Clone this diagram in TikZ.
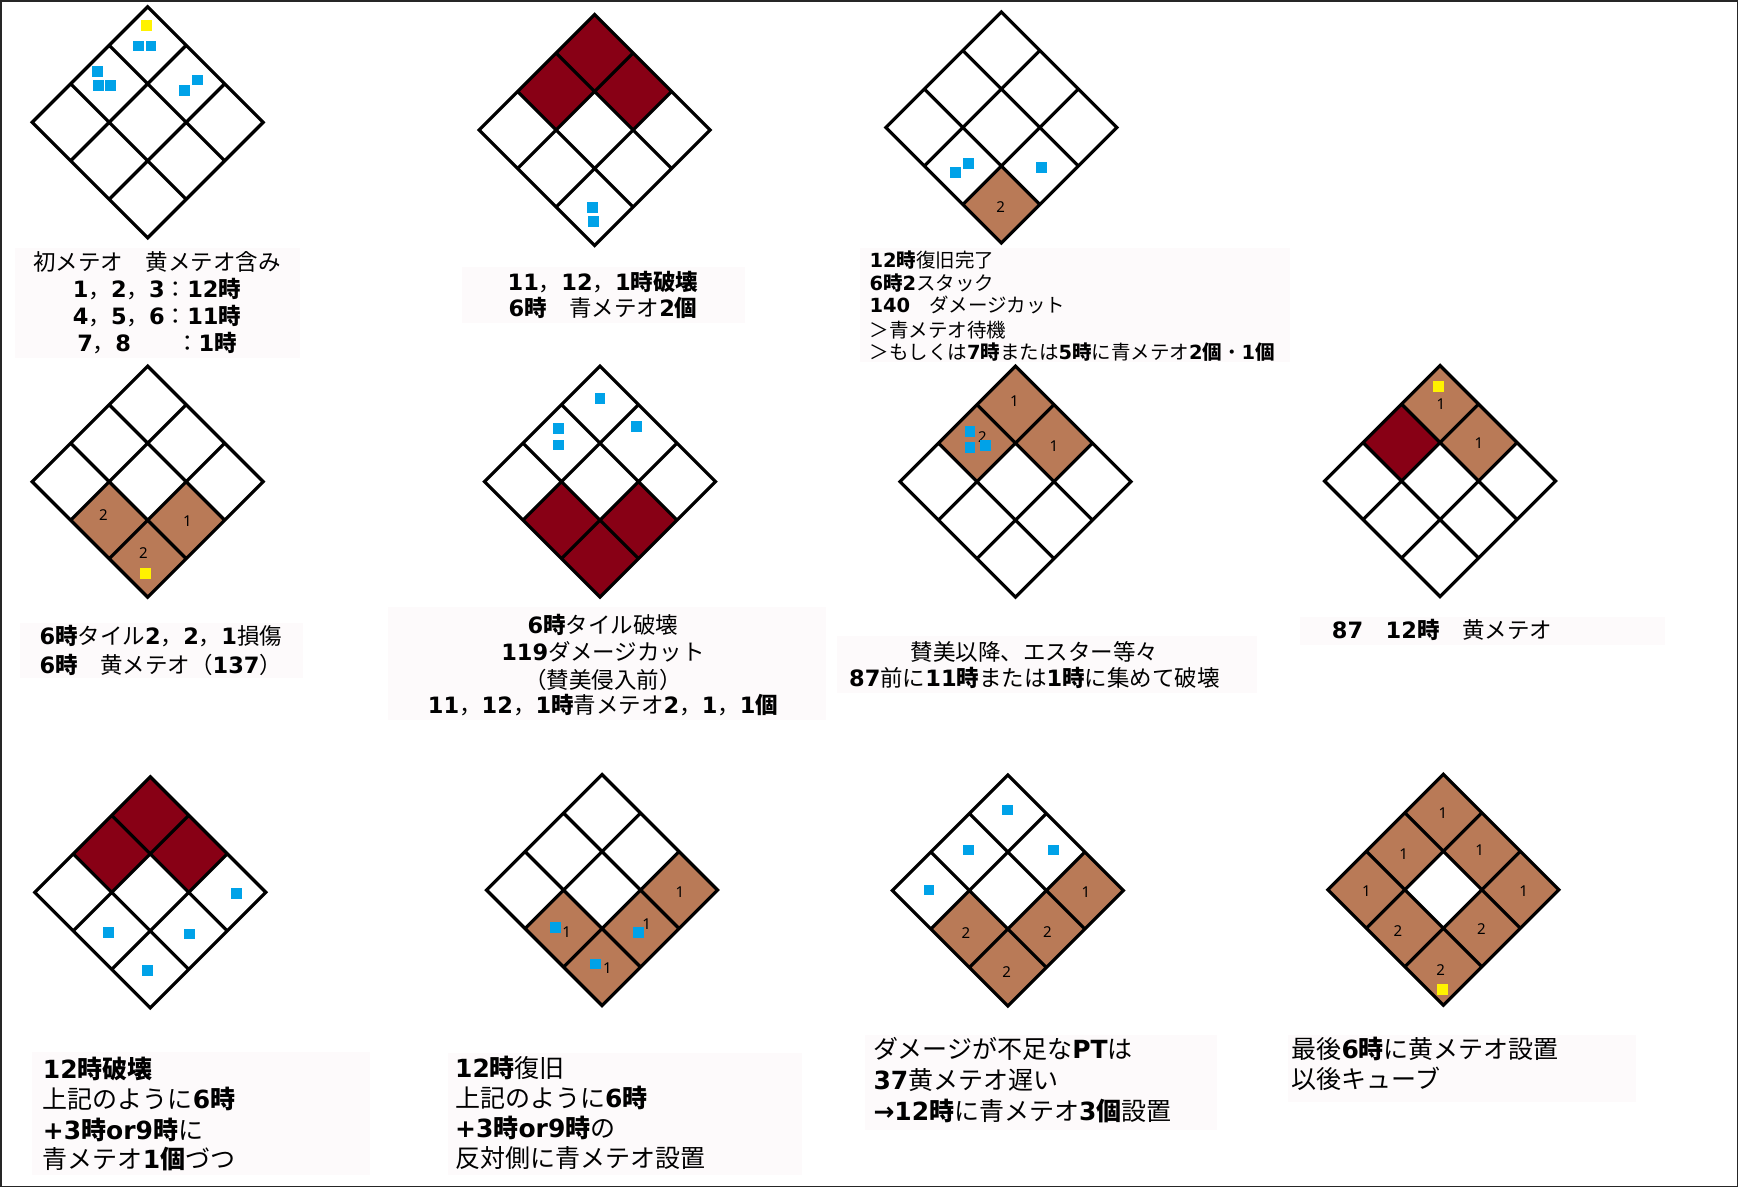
\documentclass[tikz,border=0pt]{standalone}
\usepackage{fontspec}
\setmainfont{Noto Sans CJK JP}
\newfontfamily\dv{DejaVu Sans}
\newfontfamily\nsans{Noto Sans}
\newcommand\D[1]{{\dv\bfseries #1}}
\newcommand\K[1]{{\bfseries #1}}
\definecolor{dred}{HTML}{880015}
\definecolor{tbrown}{HTML}{B97A57}
\definecolor{ymk}{HTML}{FFF200}
\definecolor{bmk}{HTML}{00A2E8}
\definecolor{txtbg}{HTML}{FDFAFB}
\tikzset{
  gridline/.style={line width=3.2pt, line join=miter, draw=black},
  txtA/.style={inner sep=0pt, font=\fontsize{22.5}{27}\selectfont},
  txtB/.style={inner sep=0pt, font=\fontsize{19.5}{23}\selectfont},
  txtC/.style={inner sep=0pt, font=\fontsize{25}{30}\selectfont},
  lbl/.style={inner sep=0pt, font=\nsans\fontsize{15}{18}\selectfont},
  txtbox/.style={fill=txtbg, draw=none},
}
\newcommand\dgrid[2]{\draw[gridline,shift={(#1,#2-115.5)},x={(38.5pt,-38.5pt)},y={(-38.5pt,-38.5pt)}]
  (0,0)--(3,0)--(3,3)--(0,3)--cycle (1,0)--(1,3) (2,0)--(2,3) (0,1)--(3,1) (0,2)--(3,2);}
\newcommand\dcell[5]{\fill[#5,shift={(#1,#2-115.5)},x={(38.5pt,-38.5pt)},y={(-38.5pt,-38.5pt)}]
  (#3,#4) -- ++(1,0) -- ++(0,1) -- ++(-1,0) -- cycle;}
\newcommand\bsq[2]{\fill[bmk] (#1,#2) ++(-5.3,-5.3) rectangle ++(10.6,10.6);}
\newcommand\ysq[2]{\fill[ymk] (#1,#2) ++(-5.5,-5.5) rectangle ++(11,11);}
\begin{document}
\begin{tikzpicture}[x=1pt,y=-1pt]
\useasboundingbox (0,0) rectangle (1738,1187);
\fill[white] (0,0) rectangle (1738,1187);
% text backgrounds
\fill[txtbox] (15,248) rectangle (300,358);
\fill[txtbox] (461.7,266.7) rectangle (745,323.3);
\fill[txtbox] (860,248) rectangle (1290,362);
\fill[txtbox] (20,623) rectangle (303,678);
\fill[txtbox] (388,607) rectangle (826,720);
\fill[txtbox] (837,636) rectangle (1257,693);
\fill[txtbox] (1300,617) rectangle (1665,645);
\fill[txtbox] (31.7,1052) rectangle (370,1175);
\fill[txtbox] (448,1053) rectangle (802,1175);
\fill[txtbox] (865,1035) rectangle (1217,1130);
\fill[txtbox] (1288,1035) rectangle (1636,1102);

% ---------- diamond 1
\dgrid{147.7}{122.3}
\ysq{146}{25}
\bsq{138.2}{46}\bsq{150.8}{46}
\bsq{97.3}{71.7}\bsq{98.7}{85.7}\bsq{110.5}{85.7}
\bsq{184.3}{90.7}\bsq{197.3}{80}

% ---------- diamond 2
\dcell{594.7}{130}{0}{0}{dred}\dcell{594.7}{130}{1}{0}{dred}\dcell{594.7}{130}{0}{1}{dred}
\dgrid{594.7}{130}
\bsq{592.7}{207.3}\bsq{593.3}{221.7}

% ---------- diamond 3
\dcell{1001.3}{127.5}{2}{2}{tbrown}
\dgrid{1001.3}{127.5}
\node[lbl] (l3a) at (1000.7,206.7) {2};
\bsq{955.7}{172.3}\bsq{968.3}{163.3}\bsq{1041.7}{167.3}

% ---------- diamond 4
\dcell{147.7}{481.7}{1}{2}{tbrown}\dcell{147.7}{481.7}{2}{2}{tbrown}\dcell{147.7}{481.7}{2}{1}{tbrown}
\dgrid{147.7}{481.7}
\node[lbl] (l4a) at (103.3,515) {2};
\node[lbl] (l4b) at (143.3,552.7) {2};
\node[lbl] (l4c) at (187.3,520.7) {1};
\ysq{145}{573.3}

% ---------- diamond 5
\dcell{600}{481.7}{1}{2}{dred}\dcell{600}{481.7}{2}{2}{dred}\dcell{600}{481.7}{2}{1}{dred}
\dgrid{600}{481.7}
\bsq{600}{398.3}\bsq{558.3}{428.3}\bsq{558.3}{445}\bsq{636.7}{426.7}

% ---------- diamond 6
\dcell{1015.5}{481.7}{0}{0}{tbrown}\dcell{1015.5}{481.7}{0}{1}{tbrown}\dcell{1015.5}{481.7}{1}{0}{tbrown}
\dgrid{1015.5}{481.7}
\node[lbl] (l6a) at (1014.3,400.7) {1};
\node[lbl] (l6b) at (982.3,436.7) {2};
\node[lbl] (l6c) at (1054,446) {1};
\bsq{970}{431.7}\bsq{970}{447.3}\bsq{985.3}{445.7}

% ---------- diamond 7
\dcell{1440}{481}{0}{0}{tbrown}\dcell{1440}{481}{1}{0}{tbrown}\dcell{1440}{481}{0}{1}{dred}
\dgrid{1440}{481}
\node[lbl] (l7a) at (1441,404.3) {1};
\node[lbl] (l7b) at (1479,442.7) {1};
\ysq{1438.3}{386.7}

% ---------- diamond 8
\dcell{150.3}{892.3}{0}{0}{dred}\dcell{150.3}{892.3}{1}{0}{dred}\dcell{150.3}{892.3}{0}{1}{dred}
\dgrid{150.3}{892.3}
\bsq{236.7}{893.3}\bsq{108.3}{932.7}\bsq{189.3}{934}\bsq{147.3}{970.7}

% ---------- diamond 9
\dcell{602}{890}{2}{0}{tbrown}\dcell{602}{890}{2}{1}{tbrown}\dcell{602}{890}{1}{2}{tbrown}\dcell{602}{890}{2}{2}{tbrown}
\dgrid{602}{890}
\node[lbl] (l9a) at (680,891.7) {1};
\node[lbl] (l9b) at (646.7,924) {1};
\node[lbl] (l9c) at (566.7,931.7) {1};
\node[lbl] (l9d) at (607.3,968.3) {1};
\bsq{638.3}{932.7}\bsq{555.7}{927.7}\bsq{595.7}{964}

% ---------- diamond 10
\dcell{1007.8}{890.5}{2}{0}{tbrown}\dcell{1007.8}{890.5}{2}{1}{tbrown}\dcell{1007.8}{890.5}{1}{2}{tbrown}\dcell{1007.8}{890.5}{2}{2}{tbrown}
\dgrid{1007.8}{890.5}
\node[lbl] (l10a) at (1086,892.3) {1};
\node[lbl] (l10b) at (1047.3,932.3) {2};
\node[lbl] (l10c) at (966,932.7) {2};
\node[lbl] (l10d) at (1006.7,972.3) {2};
\bsq{1007.7}{810}\bsq{968.3}{850}\bsq{1053.3}{850}\bsq{929}{890}

% ---------- diamond 11
\dcell{1443.3}{889.7}{0}{0}{tbrown}\dcell{1443.3}{889.7}{1}{0}{tbrown}\dcell{1443.3}{889.7}{2}{0}{tbrown}
\dcell{1443.3}{889.7}{0}{1}{tbrown}\dcell{1443.3}{889.7}{2}{1}{tbrown}
\dcell{1443.3}{889.7}{0}{2}{tbrown}\dcell{1443.3}{889.7}{1}{2}{tbrown}\dcell{1443.3}{889.7}{2}{2}{tbrown}
\dgrid{1443.3}{889.7}
\node[lbl] (l11a) at (1443,813.3) {1};
\node[lbl] (l11b) at (1403.7,854.3) {1};
\node[lbl] (l11c) at (1479.7,850) {1};
\node[lbl] (l11d) at (1366.3,890.7) {1};
\node[lbl] (l11e) at (1523.7,891) {1};
\node[lbl] (l11f) at (1398,931) {2};
\node[lbl] (l11g) at (1481.3,929.3) {2};
\node[lbl] (l11h) at (1440.7,970) {2};
\ysq{1442.3}{989}

% ---------- texts
\node[txtA] (t1a) at (157,261.7) {初メテオ　黄メテオ含み};
\node[txtA] (t1b) at (157,289.3) {\D{1}，\D{2}，\D{3}：\D{12}\K{時}};
\node[txtA] (t1c) at (157,316) {\D{4}，\D{5}，\D{6}：\D{11}\K{時}};
\node[txtA] (t1d) at (157,342.7) {\D{7}，\D{8}　　：\D{1}\K{時}};

\node[txtA] (t2a) at (603,281.7) {\D{11}，\D{12}，\D{1}\K{時破壊}};
\node[txtA] (t2b) at (603,308.3) {\D{6}\K{時}　青メテオ\D{2}\K{個}};

\node[txtB,anchor=west] (t3a) at (869.3,260) {\D{12}\K{時}復旧完了};
\node[txtB,anchor=west] (t3b) at (869.3,283.3) {\D{6}\K{時}\D{2}スタック};
\node[txtB,anchor=west] (t3c) at (869.3,305) {\D{140}　ダメージカット};
\node[txtB,anchor=west] (t3d) at (869.3,330) {＞青メテオ待機};
\node[txtB,anchor=west] (t3e) at (869.3,351.7) {＞もしくは\D{7}\K{時}または\D{5}\K{時}に青メテオ\D{2}\K{個}・\D{1}\K{個}};

\node[txtA,anchor=west] (t4a) at (39.3,636) {\D{6}\K{時}タイル\D{2}，\D{2}，\D{1}損傷};
\node[txtA,anchor=west] (t4b) at (39.3,665) {\D{6}\K{時}　黄メテオ（\D{137}）};

\node[txtA] (t5a) at (603,625) {\D{6}\K{時}タイル破壊};
\node[txtA] (t5b) at (603,652.3) {\D{119}ダメージカット};
\node[txtA] (t5c) at (603,680) {（賛美侵入前）};
\node[txtA] (t5d) at (603,705) {\D{11}，\D{12}，\D{1}\K{時}青メテオ\D{2}，\D{1}，\D{1}\K{個}};

\node[txtA] (t6a) at (1034.5,651.7) {賛美以降、エスター等々};
\node[txtA] (t6b) at (1034.5,678.3) {\D{87}前に\D{11}\K{時}または\D{1}\K{時}に集めて破壊};

\node[txtA,anchor=west] (t7a) at (1331.7,630) {\D{87}　\D{12}\K{時}　黄メテオ};

\node[txtC,anchor=west] (t8a) at (42.7,1069.3) {\D{12}\K{時破壊}};
\node[txtC,anchor=west] (t8b) at (42.7,1099.3) {上記のように\D{6}\K{時}};
\node[txtC,anchor=west] (t8c) at (42.7,1130) {\D{+3}\K{時}\D{or9}\K{時}に};
\node[txtC,anchor=west] (t8d) at (42.7,1159.3) {青メテオ\D{1}\K{個}づつ};

\node[txtC,anchor=west] (t9a) at (455,1068.3) {\D{12}\K{時}復旧};
\node[txtC,anchor=west] (t9b) at (455,1098.3) {上記のように\D{6}\K{時}};
\node[txtC,anchor=west] (t9c) at (455,1128.3) {\D{+3}\K{時}\D{or9}\K{時}の};
\node[txtC,anchor=west] (t9d) at (455,1158.3) {反対側に青メテオ設置};

\node[txtC,anchor=west] (t10a) at (873.3,1049.3) {ダメージが不足な\D{PT}は};
\node[txtC,anchor=west] (t10b) at (873.3,1080) {\D{37}黄メテオ遅い};
\node[txtC,anchor=west] (t10c) at (873.3,1110.7) {\D{→12}\K{時}に青メテオ\D{3}\K{個}設置};

\node[txtC,anchor=west] (t11a) at (1291.3,1049.3) {最後\D{6}\K{時}に黄メテオ設置};
\node[txtC,anchor=west] (t11b) at (1291.3,1079.3) {以後キューブ};

% frame
\draw[line width=1.5pt, black!85] (0.75,0.75) rectangle (1737.25,1186.25);
\end{tikzpicture}
\end{document}
